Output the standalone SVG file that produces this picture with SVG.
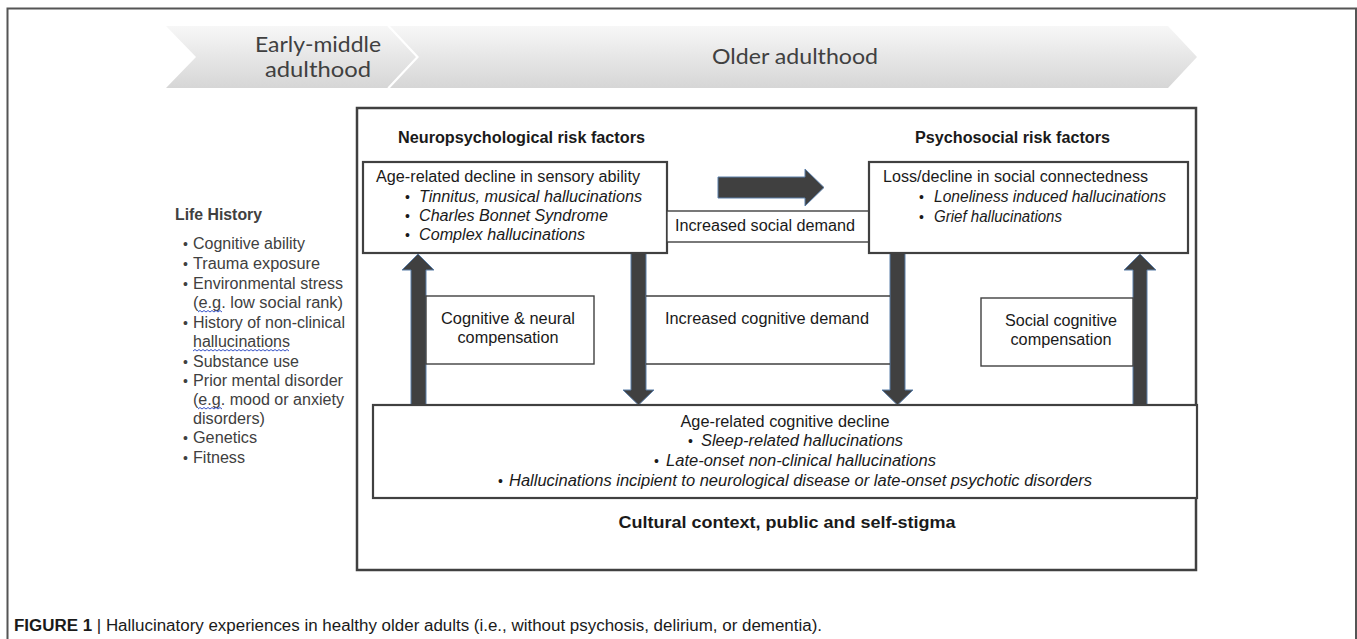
<svg xmlns="http://www.w3.org/2000/svg" width="1357" height="639" viewBox="0 0 1357 639">
<defs>
<linearGradient id="chev" x1="0" y1="0" x2="0" y2="1">
<stop offset="0" stop-color="#f7f7f7"/>
<stop offset="1" stop-color="#d6d6d6"/>
</linearGradient>
</defs>
<style>
.t{font-family:"Liberation Sans",Arial,sans-serif;fill:#1a1a1a}
.lh{font-family:"Liberation Sans",Arial,sans-serif;fill:#404040;font-size:16px}
.b{font-weight:bold}
.i{font-style:italic}
.bu{font-size:14px}
.ch{font-family:Lato,"Open Sans",sans-serif;fill:#404040;font-size:21px}
.box{fill:#fff;stroke:#404040;stroke-width:2.2}
.sbox{fill:#fff;stroke:#404040;stroke-width:1.4}
.arr{fill:#404040;stroke:#5b7ea8;stroke-width:1}
.sq{fill:none;stroke:#3a55c8;stroke-width:1}
</style>
<rect width="1357" height="639" fill="#fff"/>
<!-- figure frame -->
<path d="M7.5 639 V8.5 H1356 V639" fill="none" stroke="#555" stroke-width="2"/>

<!-- timeline chevrons -->
<g id="timeline">
<polygon points="166,26 388,26 417,57 388,88 166,88 196,57" fill="url(#chev)"/>
<polygon points="390,26 1168,26 1197,57 1168,88 390,88 419,57" fill="url(#chev)"/>
<polyline points="388,26 417,57 388,88" fill="none" stroke="#fff" stroke-width="1.5"/>
<text class="ch" x="318" y="52" text-anchor="middle" textLength="126" lengthAdjust="spacingAndGlyphs">Early-middle</text>
<text class="ch" x="318" y="77" text-anchor="middle" textLength="106" lengthAdjust="spacingAndGlyphs">adulthood</text>
<text class="ch" x="795" y="64" text-anchor="middle" textLength="166" lengthAdjust="spacingAndGlyphs">Older adulthood</text>
</g>

<!-- life history -->
<g id="life-history">
<text class="lh b" x="175" y="220" textLength="87" lengthAdjust="spacingAndGlyphs">Life History</text>
<g class="lh">
<text x="183" y="249" class="bu">•</text><text x="193" y="249" textLength="112" lengthAdjust="spacingAndGlyphs">Cognitive ability</text>
<text x="183" y="269" class="bu">•</text><text x="193" y="269" textLength="127" lengthAdjust="spacingAndGlyphs">Trauma exposure</text>
<text x="183" y="289" class="bu">•</text><text x="193" y="289" textLength="150" lengthAdjust="spacingAndGlyphs">Environmental stress</text>
<text x="193" y="308" textLength="150" lengthAdjust="spacingAndGlyphs">(e.g. low social rank)</text>
<text x="183" y="328" class="bu">•</text><text x="193" y="328" textLength="152" lengthAdjust="spacingAndGlyphs">History of non-clinical</text>
<text x="193" y="347" textLength="97" lengthAdjust="spacingAndGlyphs">hallucinations</text>
<text x="183" y="367" class="bu">•</text><text x="193" y="367" textLength="106" lengthAdjust="spacingAndGlyphs">Substance use</text>
<text x="183" y="386" class="bu">•</text><text x="193" y="386" textLength="150" lengthAdjust="spacingAndGlyphs">Prior mental disorder</text>
<text x="193" y="405" textLength="151" lengthAdjust="spacingAndGlyphs">(e.g. mood or anxiety</text>
<text x="193" y="424" textLength="72" lengthAdjust="spacingAndGlyphs">disorders)</text>
<text x="183" y="443" class="bu">•</text><text x="193" y="443" textLength="64" lengthAdjust="spacingAndGlyphs">Genetics</text>
<text x="183" y="463" class="bu">•</text><text x="193" y="463" textLength="52" lengthAdjust="spacingAndGlyphs">Fitness</text>
</g>
<path class="sq" d="M198 312 l2 -1.5 l2 1.5 l2 -1.5 l2 1.5 l2 -1.5 l2 1.5 l2 -1.5 l2 1.5 l2 -1.5 l2 1.5 l2 -1.5 l2 1.5"/>
<path class="sq" d="M193 351 l2 -1.5 l2 1.5 l2 -1.5 l2 1.5 l2 -1.5 l2 1.5 l2 -1.5 l2 1.5 l2 -1.5 l2 1.5 l2 -1.5 l2 1.5 l2 -1.5 l2 1.5 l2 -1.5 l2 1.5 l2 -1.5 l2 1.5 l2 -1.5 l2 1.5 l2 -1.5 l2 1.5 l2 -1.5 l2 1.5 l2 -1.5 l2 1.5 l2 -1.5 l2 1.5 l2 -1.5 l2 1.5 l2 -1.5 l2 1.5 l2 -1.5 l2 1.5 l2 -1.5 l2 1.5 l2 -1.5 l2 1.5 l2 -1.5 l2 1.5 l2 -1.5 l2 1.5 l2 -1.5 l2 1.5 l2 -1.5 l2 1.5 l2 -1.5 l2 1.5"/>
<path class="sq" d="M198 409 l2 -1.5 l2 1.5 l2 -1.5 l2 1.5 l2 -1.5 l2 1.5 l2 -1.5 l2 1.5 l2 -1.5 l2 1.5 l2 -1.5 l2 1.5"/>
</g>

<!-- main frame -->
<g id="main-frame">
<rect x="357" y="108" width="839" height="462" fill="none" stroke="#404040" stroke-width="2.5"/>
<text class="t b" x="398" y="143" font-size="16" textLength="247" lengthAdjust="spacingAndGlyphs">Neuropsychological risk factors</text>
<text class="t b" x="915" y="143" font-size="16" textLength="195" lengthAdjust="spacingAndGlyphs">Psychosocial risk factors</text>
<text class="t b" x="787" y="528" font-size="17" text-anchor="middle" textLength="337" lengthAdjust="spacingAndGlyphs">Cultural context, public and self-stigma</text>
</g>

<!-- connectors -->
<g id="connectors">
<polygon class="arr" points="718,177 805,177 805,169 824,187.5 805,206 805,198 718,198"/>
<polygon class="arr" points="411,405 411,270 402,270 418,254 434,270 426,270 426,405"/>
<polygon class="arr" points="631,253 646,253 646,390 654,390 638.5,405 623,390 631,390"/>
<polygon class="arr" points="890,253 905,253 905,390 913,390 897.5,405 882,390 890,390"/>
<polygon class="arr" points="1133,405 1133,270 1124,270 1140,254 1156,270 1147,270 1147,405"/>
</g>

<g id="sensory">
<rect class="box" x="363" y="162" width="304" height="91"/>
<text class="t" x="376" y="182" font-size="16" textLength="264" lengthAdjust="spacingAndGlyphs">Age-related decline in sensory ability</text>
<text class="t bu" x="405" y="202">•</text>
<text class="t i" x="419" y="202" font-size="16" textLength="223" lengthAdjust="spacingAndGlyphs">Tinnitus, musical hallucinations</text>
<text class="t bu" x="405" y="221">•</text>
<text class="t i" x="419" y="221" font-size="16" textLength="189" lengthAdjust="spacingAndGlyphs">Charles Bonnet Syndrome</text>
<text class="t bu" x="405" y="240">•</text>
<text class="t i" x="419" y="240" font-size="16" textLength="166" lengthAdjust="spacingAndGlyphs">Complex hallucinations</text>
</g>

<g id="social-demand">
<rect class="sbox" x="667" y="211" width="202" height="31"/>
<text class="t" x="765" y="231" font-size="16" text-anchor="middle" textLength="180" lengthAdjust="spacingAndGlyphs">Increased social demand</text>
</g>

<g id="social">
<rect class="box" x="869" y="162" width="319" height="91"/>
<text class="t" x="883" y="182" font-size="16" textLength="265" lengthAdjust="spacingAndGlyphs">Loss/decline in social connectedness</text>
<text class="t bu" x="919" y="202">•</text>
<text class="t i" x="934" y="202" font-size="16" textLength="232" lengthAdjust="spacingAndGlyphs">Loneliness induced hallucinations</text>
<text class="t bu" x="919" y="222">•</text>
<text class="t i" x="934" y="222" font-size="16" textLength="128" lengthAdjust="spacingAndGlyphs">Grief hallucinations</text>
</g>

<g id="cog-neural">
<rect class="sbox" x="426" y="296" width="168" height="68"/>
<text class="t" x="508" y="324" font-size="16" text-anchor="middle" textLength="134" lengthAdjust="spacingAndGlyphs">Cognitive &amp; neural</text>
<text class="t" x="508" y="343" font-size="16" text-anchor="middle" textLength="101" lengthAdjust="spacingAndGlyphs">compensation</text>
</g>

<g id="cog-demand">
<path d="M646 296 H890 M646 364 H890" stroke="#404040" stroke-width="1.4" fill="none"/>
<text class="t" x="767" y="324" font-size="16" text-anchor="middle" textLength="204" lengthAdjust="spacingAndGlyphs">Increased cognitive demand</text>
</g>

<g id="social-comp">
<rect class="sbox" x="981" y="298" width="152" height="68"/>
<text class="t" x="1061" y="326" font-size="16" text-anchor="middle" textLength="112" lengthAdjust="spacingAndGlyphs">Social cognitive</text>
<text class="t" x="1061" y="345" font-size="16" text-anchor="middle" textLength="101" lengthAdjust="spacingAndGlyphs">compensation</text>
</g>

<g id="cog-decline">
<rect class="box" x="373" y="405" width="824" height="93"/>
<text class="t" x="785" y="427" font-size="16" text-anchor="middle" textLength="209" lengthAdjust="spacingAndGlyphs">Age-related cognitive decline</text>
<text class="t bu" x="688" y="446">•</text>
<text class="t i" x="701" y="446" font-size="16" textLength="202" lengthAdjust="spacingAndGlyphs">Sleep-related hallucinations</text>
<text class="t bu" x="654" y="466">•</text>
<text class="t i" x="666" y="466" font-size="16" textLength="270" lengthAdjust="spacingAndGlyphs">Late-onset non-clinical hallucinations</text>
<text class="t bu" x="498" y="486">•</text>
<text class="t i" x="509" y="486" font-size="16" textLength="583" lengthAdjust="spacingAndGlyphs">Hallucinations incipient to neurological disease or late-onset psychotic disorders</text>
</g>

<!-- caption -->
<text class="t" x="14" y="631" font-size="16" fill="#222" textLength="808" lengthAdjust="spacingAndGlyphs"><tspan font-weight="bold">FIGURE 1</tspan> | Hallucinatory experiences in healthy older adults (i.e., without psychosis, delirium, or dementia).</text>
</svg>
